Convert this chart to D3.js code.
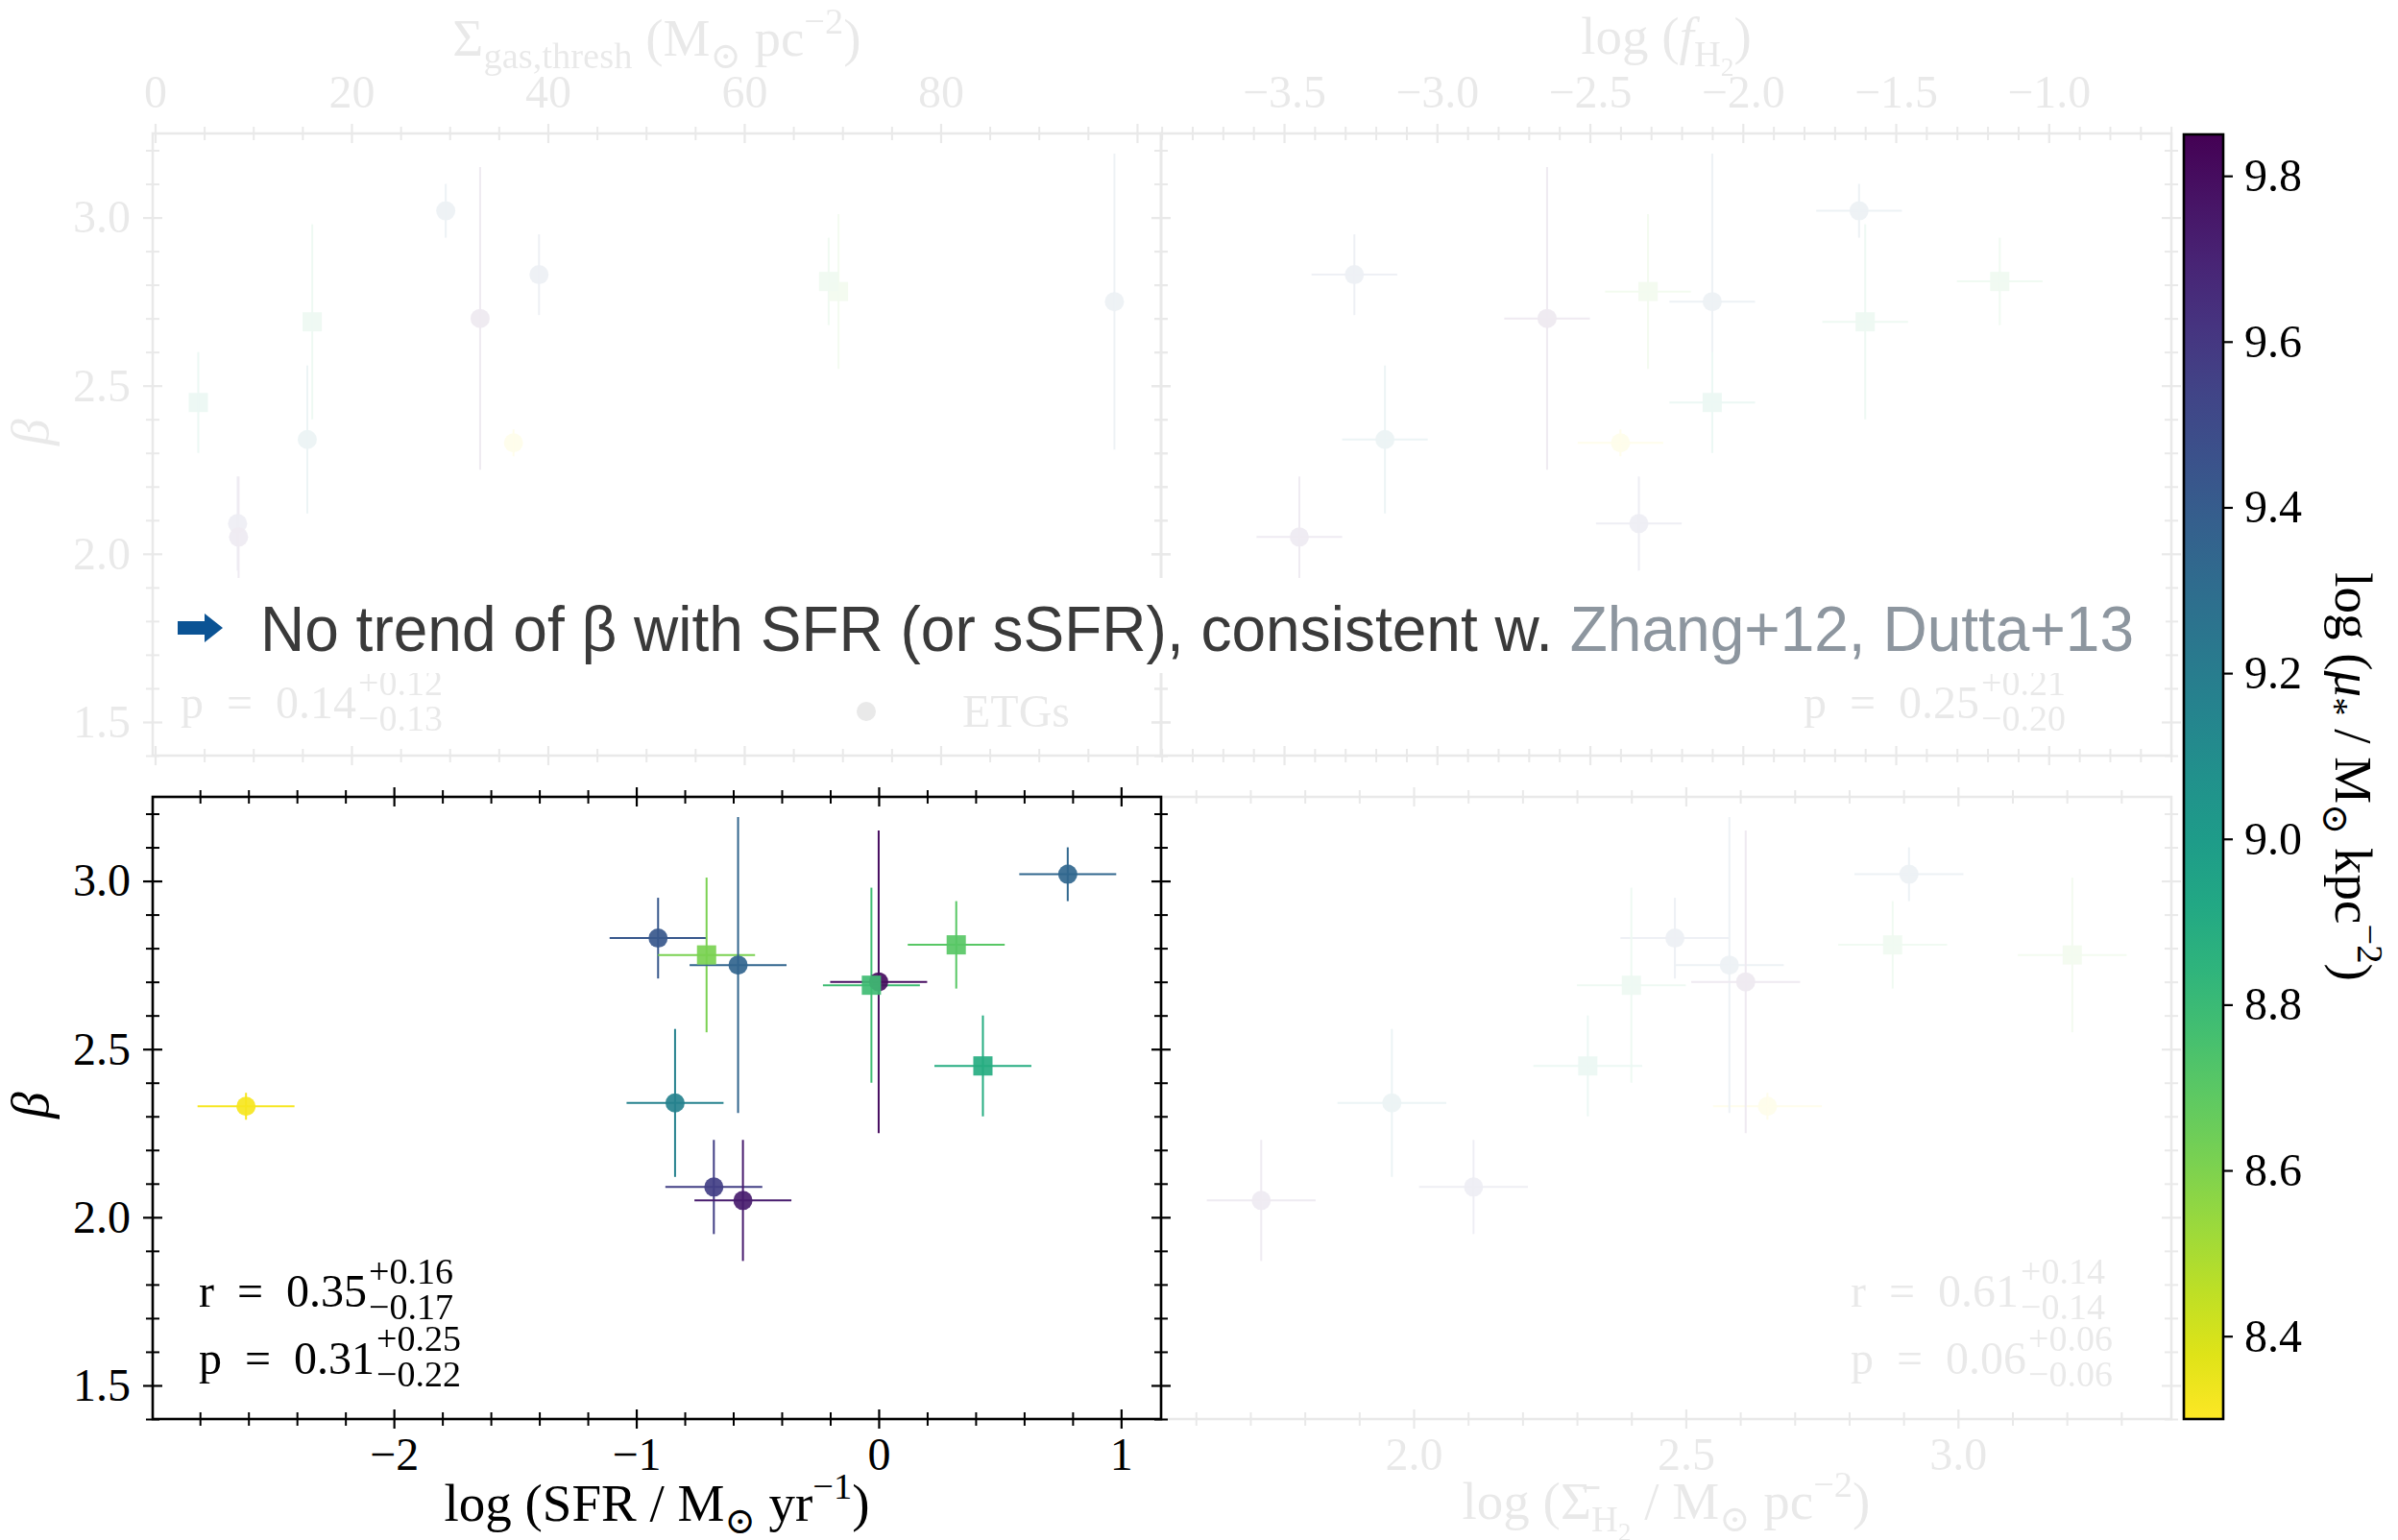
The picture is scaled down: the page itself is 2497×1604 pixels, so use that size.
<!DOCTYPE html>
<html>
<head>
<meta charset="utf-8">
<script src="https://cdn.jsdelivr.net/npm/d3@7"></script>
<style>
  html, body { margin: 0; padding: 0; background: #fff; }
  svg { display: block; }
</style>
</head>
<body>
<svg id="chart" width="2497" height="1604"></svg>
<script>
// ---- galaxy sample: one entry per galaxy, same order in every array ----
const galaxyType     = ["ETG","ETG","ETG","LTG","ETG","ETG","LTG","LTG","LTG","ETG","ETG","ETG"];
const beta           = [2.33, 3.02, 2.83, 2.78, 2.75, 2.70, 2.69, 2.81, 2.45, 2.34, 2.09, 2.05];
const betaErr        = [0.04, 0.08, 0.12, 0.23, 0.44, 0.45, 0.29, 0.13, 0.15, 0.22, 0.14, 0.18];
const logSFR         = [-2.61, 0.78, -0.91, -0.71, -0.58, 0.00, -0.03, 0.32, 0.43, -0.84, -0.68, -0.56];
const logSFRErr      = [0.2, 0.2, 0.2, 0.2, 0.2, 0.2, 0.2, 0.2, 0.2, 0.2, 0.2, 0.2];
const sigmaGasThresh = [36.5, 29.6, 39.1, 69.6, 97.7, 33.1, 16.0, 68.6, 4.4, 15.5, 8.4, 8.5];
const logFH2         = [-2.40, -1.62, -3.27, -2.31, -2.10, -2.64, -1.60, -1.16, -2.10, -3.17, -2.34, -3.45];
const logFH2Err      = [0.14, 0.14, 0.14, 0.14, 0.14, 0.14, 0.14, 0.14, 0.14, 0.14, 0.14, 0.14];
const logSigmaH2     = [2.65, 2.91, 2.48, 3.21, 2.58, 2.61, 2.40, 2.88, 2.32, 1.96, 2.11, 1.72];
const logSigmaH2Err  = [0.1, 0.1, 0.1, 0.1, 0.1, 0.1, 0.1, 0.1, 0.1, 0.1, 0.1, 0.1];
const logMuStar      = [8.32, 9.34, 9.43, 8.61, 9.35, 9.80, 8.78, 8.70, 8.89, 9.17, 9.56, 9.73];

// ---- correlation statistics: [value, +err, -err] ----
const rSFR   = ["0.35", "+0.16", "\u22120.17"];
const pSFR   = ["0.31", "+0.25", "\u22120.22"];
const pGas   = ["0.14", "+0.12", "\u22120.13"];
const pFH2   = ["0.25", "+0.21", "\u22120.20"];
const rSH2   = ["0.61", "+0.14", "\u22120.14"];
const pSH2   = ["0.06", "+0.06", "\u22120.06"];

// ---- tick values ----
const betaTicks = [1.5, 2.0, 2.5, 3.0];
const sfrTicks  = [-2, -1, 0, 1];
const gasTicks  = [0, 20, 40, 60, 80, 100];
const gasTickLabels = [0, 20, 40, 60, 80];
const fh2Ticks  = [-3.5, -3.0, -2.5, -2.0, -1.5, -1.0];
const sh2Ticks  = [2.0, 2.5, 3.0];
const muTicks   = [8.4, 8.6, 8.8, 9.0, 9.2, 9.4, 9.6, 9.8];

// ---- layout ----
const SERIF = "'Liberation Serif', 'DejaVu Serif', serif";
const SANS  = "'Liberation Sans', Arial, sans-serif";
const FS = 48, FS_SCRIPT = 38, FS_LABEL = 55;
const boxTL = {x0: 159,  x1: 1209, y0: 139, y1: 787};
const boxTR = {x0: 1209, x1: 2261, y0: 139, y1: 787};
const boxBL = {x0: 159,  x1: 1209, y0: 830, y1: 1478};
const boxBR = {x0: 1209, x1: 2261, y0: 830, y1: 1478};
const cbar  = {x0: 2274, x1: 2315, y0: 140, y1: 1478};

const svg = d3.select("#chart");

// ---- scales ----
const muDomain = [8.30, 9.85];
const color = v => d3.interpolateViridis((muDomain[1] - v) / (muDomain[1] - muDomain[0]));
const yBeta = box => d3.scaleLinear().domain([1.4, 3.25]).range([box.y1, box.y0]);
const xSFR = d3.scaleLinear().domain([-2.995, 1.165]).range([boxBL.x0, boxBL.x1]);
const xGas = d3.scaleLinear().domain([-0.245, 102.45]).range([boxTL.x0, boxTL.x1]);
const xFH2 = d3.scaleLinear().domain([-3.902, -0.599]).range([boxTR.x0, boxTR.x1]);
const xSH2 = d3.scaleLinear().domain([1.536, 3.392]).range([boxBR.x0, boxBR.x1]);
const yMu  = d3.scaleLinear().domain(muDomain).range([cbar.y1, cbar.y0]);

const fmtMinus = f => v => f(v).replace("-", "\u2212");

function minorValues(scale, step, majors) {
  const [a, b] = d3.extent(scale.domain());
  const out = [];
  for (let i = Math.ceil(a / step - 1e-9); i <= Math.floor(b / step + 1e-9); i++) {
    const v = +(i * step).toFixed(6);
    if (!majors.some(m => Math.abs(m - v) < 1e-6)) out.push(v);
  }
  return out;
}

// axis with ticks crossing the spine (in and out)
function drawAxis(g, scale, side, majors, minorStep, labels, fmt, labelOffset) {
  const make = { bottom: d3.axisBottom, top: d3.axisTop, left: d3.axisLeft, right: d3.axisRight }[side];
  const horiz = side === "bottom" || side === "top";
  const minors = minorValues(scale, minorStep, majors);

  const gMin = g.append("g");
  gMin.call(make(scale).tickValues(minors).tickSize(7).tickFormat(""));
  gMin.select(".domain").remove();
  gMin.selectAll(".tick line").attr(horiz ? "y1" : "x1", -7).attr(horiz ? "y2" : "x2", 7)
      .attr("stroke", "#000").attr("stroke-width", 2);

  const gMaj = g.append("g");
  gMaj.call(make(scale).tickValues(majors).tickSize(10)
      .tickFormat(d => (labels && labels.some(l => Math.abs(l - d) < 1e-9)) ? fmt(d) : ""));
  gMaj.select(".domain").remove();
  gMaj.selectAll(".tick line").attr(horiz ? "y1" : "x1", -10).attr(horiz ? "y2" : "x2", 10)
      .attr("stroke", "#000").attr("stroke-width", 2.2);
  const txt = gMaj.selectAll(".tick text")
      .attr("font-family", SERIF).attr("font-size", FS).attr("fill", "#000");
  if (side === "bottom") txt.attr("y", labelOffset).attr("dy", null);
  if (side === "top") txt.attr("y", -labelOffset).attr("dy", null);
  if (side === "left") txt.attr("x", -labelOffset);
  g.selectAll(".tick text").filter(function () { return this.textContent === ""; }).remove();
}

function drawPanel(root, box, xScale, xMajors, xMinorStep, xLabelSide, xLabels, xFmt, showYLabels) {
  const yScale = yBeta(box);
  const g = root.append("g");
  drawAxis(g.append("g").attr("transform", `translate(0,${box.y1})`), xScale, "bottom", xMajors, xMinorStep,
           xLabelSide === "bottom" ? xLabels : null, xFmt, 53);
  drawAxis(g.append("g").attr("transform", `translate(0,${box.y0})`), xScale, "top", xMajors, xMinorStep,
           xLabelSide === "top" ? xLabels : null, xFmt, 27);
  drawAxis(g.append("g").attr("transform", `translate(${box.x0},0)`), yScale, "left", betaTicks, 0.1,
           showYLabels ? betaTicks : null, d3.format(".1f"), 23);
  drawAxis(g.append("g").attr("transform", `translate(${box.x1},0)`), yScale, "right", betaTicks, 0.1, null, null, 0);
  g.append("rect").attr("x", box.x0).attr("y", box.y0)
    .attr("width", box.x1 - box.x0).attr("height", box.y1 - box.y0)
    .attr("fill", "none").attr("stroke", "#000").attr("stroke-width", 2.6);
  return {g, yScale};
}

function drawPoints(g, xScale, yScale, xs, xErr) {
  const idx = d3.range(beta.length);
  const pts = g.append("g");
  idx.forEach(i => {
    const c = color(logMuStar[i]);
    const cx = xScale(xs[i]), cy = yScale(beta[i]);
    if (xErr) {
      pts.append("line").attr("x1", xScale(xs[i] - xErr[i])).attr("x2", xScale(xs[i] + xErr[i]))
        .attr("y1", cy).attr("y2", cy).attr("stroke", c).attr("stroke-width", 2);
    }
    pts.append("line").attr("x1", cx).attr("x2", cx)
      .attr("y1", yScale(beta[i] - betaErr[i])).attr("y2", yScale(beta[i] + betaErr[i]))
      .attr("stroke", c).attr("stroke-width", 2);
  });
  idx.forEach(i => {
    const c = color(logMuStar[i]);
    const cx = xScale(xs[i]), cy = yScale(beta[i]);
    if (galaxyType[i] === "ETG") {
      pts.append("circle").attr("cx", cx).attr("cy", cy).attr("r", 10)
        .attr("fill", c).attr("fill-opacity", 0.92);
    } else {
      pts.append("rect").attr("x", cx - 10).attr("y", cy - 10).attr("width", 20).attr("height", 20)
        .attr("fill", c).attr("fill-opacity", 0.92);
    }
  });
}

// r / p value with stacked upper and lower uncertainties
function statText(g, x, y, name, vals) {
  const main = g.append("text").attr("x", x).attr("y", y)
    .attr("font-family", SERIF).attr("font-size", FS).text(`${name}\u2002=\u2002${vals[0]}`);
  const w = main.node().getComputedTextLength();
  g.append("text").attr("x", x + w + 2).attr("y", y - 24)
    .attr("font-family", SERIF).attr("font-size", FS_SCRIPT).text(vals[1]);
  g.append("text").attr("x", x + w + 2).attr("y", y + 13)
    .attr("font-family", SERIF).attr("font-size", FS_SCRIPT).text(vals[2]);
}

// rich label: segments [text, level, italic]; level 0 normal, -1 sup, 1 sub, 2 sub-sub
function richLabel(g, x, y, segs, rotate, fs = FS_LABEL) {
  const t = g.append("text").attr("text-anchor", "middle")
    .attr("font-family", SERIF).attr("font-size", fs)
    .attr("transform", `translate(${x},${y})` + (rotate ? ` rotate(${rotate})` : ""));
  const shift = {0: 0, "-1": -0.42 * fs, 1: 0.24 * fs, 2: 0.42 * fs};
  const size  = {0: fs, "-1": 0.7 * fs, 1: 0.7 * fs, 2: 0.5 * fs};
  let cur = 0;
  segs.forEach(([txt, lvl = 0, ital = false]) => {
    const target = shift[lvl];
    t.append("tspan").attr("dy", target - cur).attr("font-size", size[lvl])
      .attr("font-style", ital ? "italic" : null).text(txt);
    cur = target;
  });
  return t;
}

// ---------------- faded context panels ----------------
const faded = svg.append("g").attr("opacity", 0.09);

// top-left: gas threshold surface density
{
  const {g, yScale} = drawPanel(faded, boxTL, xGas, gasTicks, 5, "top", gasTickLabels, d3.format("d"), true);
  drawPoints(g, xGas, yScale, sigmaGasThresh, null);
  richLabel(g, 684, 58, [["Σ"], ["gas,thresh", 1], [" (M"], ["⊙", 1], [" pc"], ["\u22122", -1], [")"]]);
  richLabel(g, 50, 450, [["β", 0, true]], -90);
  statText(g, 188, 748, "p", pGas);
  g.append("circle").attr("cx", 902).attr("cy", 741).attr("r", 10).attr("fill", "#000");
  g.append("text").attr("x", 1002).attr("y", 757).attr("font-family", SERIF).attr("font-size", FS).text("ETGs");
}
// top-right: molecular gas fraction
{
  const {g, yScale} = drawPanel(faded, boxTR, xFH2, fh2Ticks, 0.1, "top", fh2Ticks, fmtMinus(d3.format(".1f")), false);
  drawPoints(g, xFH2, yScale, logFH2, logFH2Err);
  richLabel(g, 1735, 56, [["log ("], ["f", 0, true], ["H", 1], ["2", 2], [")"]]);
  statText(g, 1878, 748, "p", pFH2);
}
// bottom-right: mean H2 surface density
{
  const {g, yScale} = drawPanel(faded, boxBR, xSH2, sh2Ticks, 0.1, "bottom", sh2Ticks, d3.format(".1f"), false);
  drawPoints(g, xSH2, yScale, logSigmaH2, logSigmaH2Err);
  richLabel(g, 1735, 1582, [["log (Σ\u0304"], ["H", 1], ["2", 2], [" / M", 0], ["⊙", 1], [" pc"], ["\u22122", -1], [")"]]);
  statText(g, 1927, 1361, "r", rSH2);
  statText(g, 1927, 1431, "p", pSH2);
}

// ---------------- highlighted panel: beta vs SFR ----------------
{
  const {g, yScale} = drawPanel(svg, boxBL, xSFR, sfrTicks, 0.2, "bottom", sfrTicks, fmtMinus(d3.format("d")), true);
  drawPoints(g, xSFR, yScale, logSFR, logSFRErr);
  richLabel(g, 684, 1584, [["log (SFR / M"], ["⊙", 1], [" yr"], ["\u22121", -1], [")"]]);
  richLabel(g, 50, 1151, [["β", 0, true]], -90);
  statText(g, 207, 1361, "r", rSFR);
  statText(g, 207, 1431, "p", pSFR);
}

// ---------------- colour bar ----------------
{
  const defs = svg.append("defs");
  const grad = defs.append("linearGradient").attr("id", "viridis-bar")
    .attr("x1", 0).attr("y1", 1).attr("x2", 0).attr("y2", 0);
  d3.range(0, 1.0001, 0.05).forEach(t => {
    grad.append("stop").attr("offset", t).attr("stop-color", color(muDomain[0] + t * (muDomain[1] - muDomain[0])));
  });
  svg.append("rect").attr("x", cbar.x0).attr("y", cbar.y0)
    .attr("width", cbar.x1 - cbar.x0).attr("height", cbar.y1 - cbar.y0)
    .attr("fill", "url(#viridis-bar)").attr("stroke", "#000").attr("stroke-width", 2.6);
  const ga = svg.append("g").attr("transform", `translate(${cbar.x1},0)`);
  ga.call(d3.axisRight(yMu).tickValues(muTicks).tickSize(10).tickPadding(12).tickFormat(d3.format(".1f")));
  ga.select(".domain").remove();
  ga.selectAll(".tick line").attr("stroke", "#000").attr("stroke-width", 2.2);
  ga.selectAll(".tick text").attr("font-family", SERIF).attr("font-size", FS).attr("fill", "#000");
  richLabel(svg, 2432, (cbar.y0 + cbar.y1) / 2,
    [["log ("], ["μ", 0, true], ["*", 1], [" / M"], ["⊙", 1], [" kpc"], ["\u22122", -1], [")"]], 90);
}

// ---------------- takeaway banner ----------------
{
  const band = svg.append("g");
  band.append("rect").attr("x", 172).attr("y", 602).attr("width", 2255 - 172).attr("height", 99).attr("fill", "#fff");
  band.append("path")
    .attr("d", "M185,647 L213,647 L213,639 L232,654 L213,669 L213,661 L185,661 Z")
    .attr("fill", "#0b5394");
  band.append("text").attr("x", 271).attr("y", 678)
    .attr("font-family", SANS).attr("font-size", 66)
    .attr("textLength", 1951).attr("lengthAdjust", "spacingAndGlyphs")
    .html(`<tspan fill="#3a3a3a">No trend of β with SFR (or sSFR), consistent w. </tspan><tspan fill="#8d969f">Zhang+12, Dutta+13</tspan>`);
}
</script>
</body>
</html>
